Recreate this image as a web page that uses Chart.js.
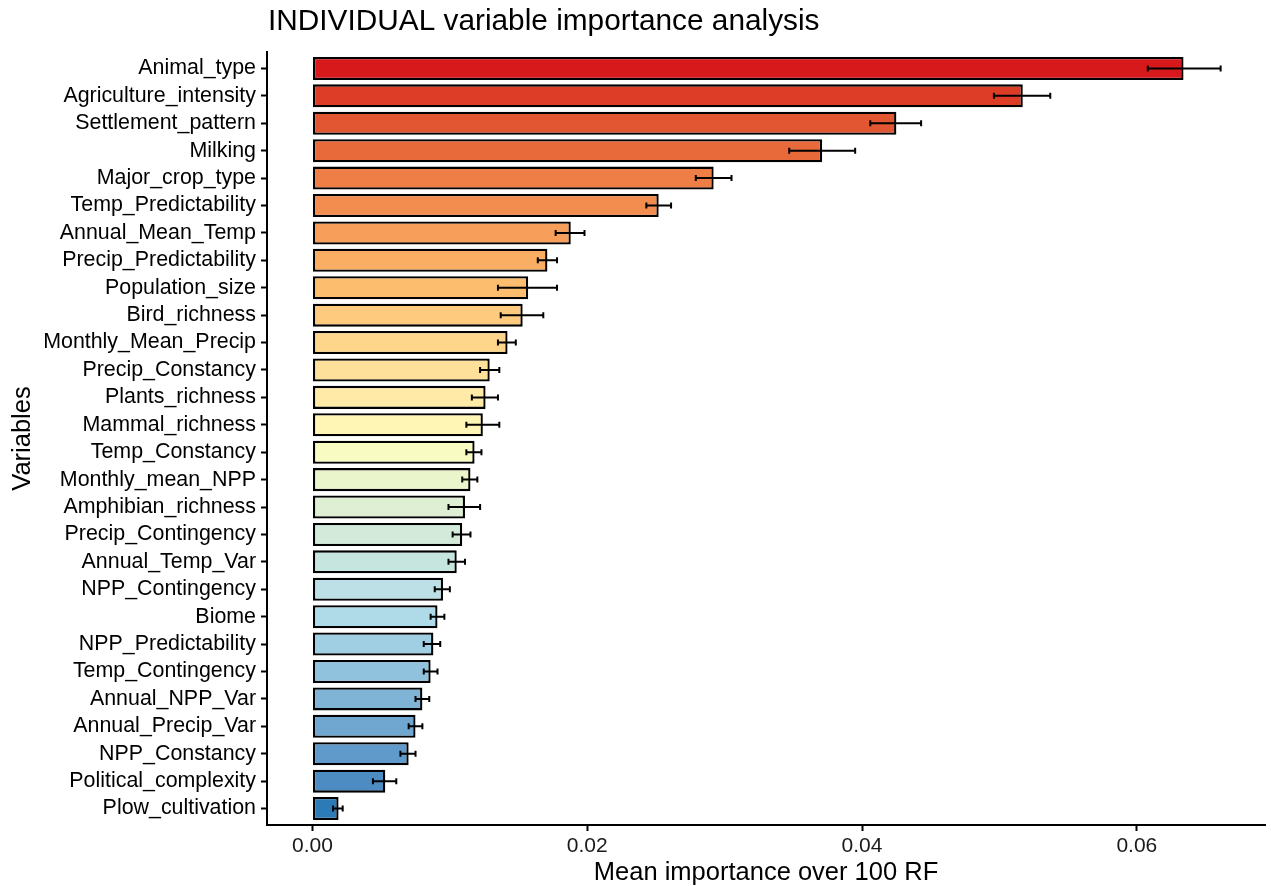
<!DOCTYPE html>
<html>
<head>
<meta charset="utf-8">
<script src="https://cdn.jsdelivr.net/npm/chart.js@4/dist/chart.umd.min.js"></script>
<style>
    html, body { margin: 0; padding: 0; background: #fff; }
    #wrap { width: 1271px; height: 886px; }
</style>
</head>
<body>
<div id="wrap"><canvas id="chart"></canvas></div>
<script>
// variables, top to bottom
const variables = [
    'Animal_type', 'Agriculture_intensity', 'Settlement_pattern', 'Milking',
    'Major_crop_type', 'Temp_Predictability', 'Annual_Mean_Temp', 'Precip_Predictability',
    'Population_size', 'Bird_richness', 'Monthly_Mean_Precip', 'Precip_Constancy',
    'Plants_richness', 'Mammal_richness', 'Temp_Constancy', 'Monthly_mean_NPP',
    'Amphibian_richness', 'Precip_Contingency', 'Annual_Temp_Var', 'NPP_Contingency',
    'Biome', 'NPP_Predictability', 'Temp_Contingency', 'Annual_NPP_Var',
    'Annual_Precip_Var', 'NPP_Constancy', 'Political_complexity', 'Plow_cultivation'
];
const meanImportance = [
    0.0634, 0.0517, 0.0425, 0.0371, 0.0292, 0.0252, 0.0188, 0.0171,
    0.0157, 0.0153, 0.0142, 0.0129, 0.0126, 0.0124, 0.0118, 0.0115,
    0.0111, 0.0109, 0.0105, 0.0095, 0.0091, 0.0088, 0.0086, 0.0080,
    0.0075, 0.0070, 0.0053, 0.0019
];
const errLow = [
    0.0608, 0.0496, 0.0406, 0.0347, 0.0279, 0.0243, 0.0177, 0.0164,
    0.0135, 0.0137, 0.0135, 0.0122, 0.0116, 0.0112, 0.0112, 0.0109,
    0.0099, 0.0102, 0.0099, 0.0089, 0.0086, 0.0081, 0.0081, 0.0075,
    0.0070, 0.0064, 0.0044, 0.0015
];
const errHigh = [
    0.0661, 0.0537, 0.0443, 0.0395, 0.0305, 0.0261, 0.0198, 0.0178,
    0.0178, 0.0168, 0.0148, 0.0136, 0.0135, 0.0136, 0.0123, 0.0120,
    0.0122, 0.0115, 0.0111, 0.0100, 0.0096, 0.0093, 0.0091, 0.0085,
    0.0080, 0.0075, 0.0061, 0.0022
];
const xTicks = [0, 0.02, 0.04, 0.06];

const barColors = [
    '#d7191c', '#dd3d26', '#e25632', '#e86a3b', '#ee7d46', '#f28c4f', '#f69e5a', '#f9ae63',
    '#fcbd6f', '#fdca7e', '#fed68b', '#fee09a', '#ffeaa7', '#fff5b5', '#f8fbc2', '#eaf5cb',
    '#deefd4', '#d3eadb', '#c7e5df', '#bce0e5', '#afdae7', '#a0cee3', '#90c1dd', '#80b4d7',
    '#70a7d0', '#609aca', '#4c8cc2', '#2c7bb6'
];

const FONT = '"Liberation Sans", Arial, Helvetica, sans-serif';

// error bars drawn on top of the bars
const errorBars = {
    id: 'errorBars',
    afterDatasetsDraw(chart) {
        const { ctx, scales: { x, y } } = chart;
        ctx.save();
        ctx.strokeStyle = '#000';
        ctx.lineWidth = 2;
        variables.forEach((v, i) => {
            const py = y.getPixelForValue(i);
            const x1 = x.getPixelForValue(errLow[i]);
            const x2 = x.getPixelForValue(errHigh[i]);
            ctx.beginPath();
            ctx.moveTo(x1, py); ctx.lineTo(x2, py);
            ctx.moveTo(x1, py - 3); ctx.lineTo(x1, py + 3);
            ctx.moveTo(x2, py - 3); ctx.lineTo(x2, py + 3);
            ctx.stroke();
        });
        ctx.restore();
    }
};

// plot title, left aligned with the panel
const plotTitle = {
    id: 'plotTitle',
    afterDraw(chart) {
        const { ctx, chartArea } = chart;
        ctx.save();
        ctx.fillStyle = '#000';
        ctx.font = '29.8px ' + FONT;
        ctx.textAlign = 'left';
        ctx.textBaseline = 'middle';
        ctx.fillText('INDIVIDUAL variable importance analysis', chartArea.left + 1, 22);
        ctx.restore();
    }
};

new Chart(document.getElementById('chart'), {
    type: 'bar',
    data: {
        datasets: [{
            data: meanImportance.map((m, i) => ({ x: m, y: i })),
            backgroundColor: barColors,
            borderColor: '#000',
            borderWidth: 2.3,
            borderSkipped: false,
            barPercentage: 0.84,
            categoryPercentage: 1
        }]
    },
    options: {
        indexAxis: 'y',
        responsive: true,
        maintainAspectRatio: false,
        animation: false,
        layout: { padding: { top: 52, left: 8, right: 6, bottom: 0 } },
        plugins: {
            legend: { display: false },
            tooltip: { enabled: false }
        },
        scales: {
            x: {
                type: 'linear',
                min: -0.00331,
                max: 0.06933,
                afterBuildTicks: s => { s.ticks = xTicks.map(v => ({ value: v })); },
                afterFit: s => { s.height = 61; },
                ticks: {
                    callback: v => v.toFixed(2),
                    color: '#1a1a1a',
                    font: { family: FONT, size: 21 },
                    padding: 3,
                    maxRotation: 0
                },
                grid: {
                    drawOnChartArea: false,
                    drawTicks: true,
                    tickLength: 6,
                    tickColor: '#000',
                    tickWidth: 2
                },
                border: { display: true, color: '#000', width: 2 },
                title: {
                    display: true,
                    text: 'Mean importance over 100 RF',
                    color: '#000',
                    font: { family: FONT, size: 25.5, lineHeight: 1 },
                    padding: { top: 0, bottom: 0 }
                }
            },
            y: {
                type: 'linear',
                reverse: true,
                offset: false,
                min: -0.6,
                max: 27.6,
                afterBuildTicks: s => { s.ticks = variables.map((v, i) => ({ value: i })); },
                afterFit: s => { s.width = 259; },
                ticks: {
                    callback: v => variables[v],
                    color: '#000',
                    font: { family: FONT, size: 21.4 },
                    padding: 5,
                    autoSkip: false
                },
                grid: {
                    offset: false,
                    drawOnChartArea: false,
                    drawTicks: true,
                    tickLength: 6,
                    tickColor: '#000',
                    tickWidth: 2
                },
                border: { display: true, color: '#000', width: 2 },
                title: {
                    display: true,
                    text: 'Variables',
                    color: '#000',
                    font: { family: FONT, size: 25.5, lineHeight: 1 },
                    padding: { top: 2, bottom: 0 }
                }
            }
        }
    },
    plugins: [errorBars, plotTitle]
});
</script>
</body>
</html>
